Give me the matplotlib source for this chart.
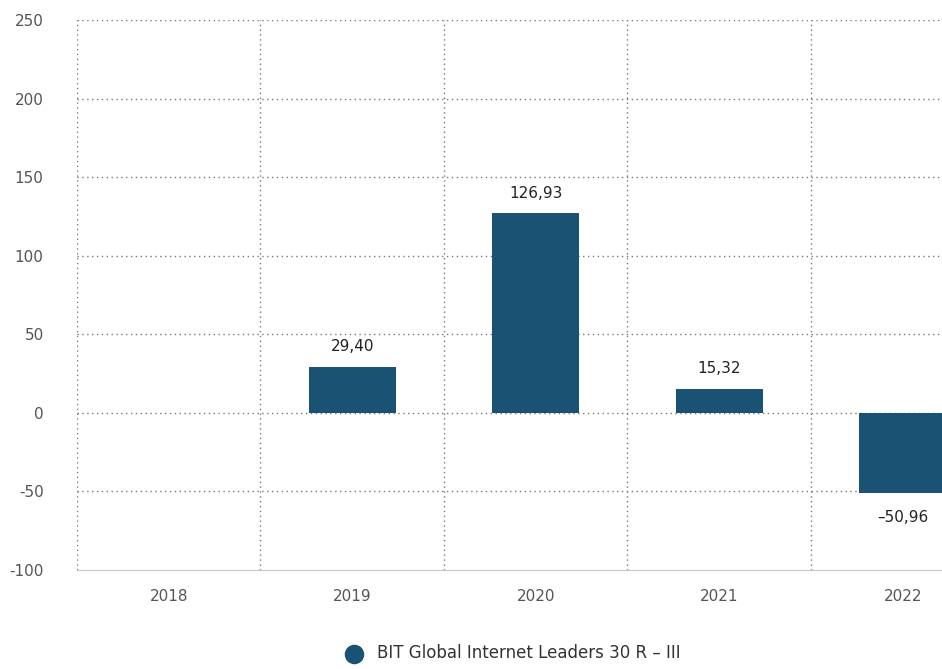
import matplotlib.pyplot as plt

plt.rcParams['axes.unicode_minus'] = False

years = ['2018', '2019', '2020', '2021', '2022']
values = [None, 29.40, 126.93, 15.32, -50.96]
series_name = 'BIT Global Internet Leaders 30 R \u2013 III'
bar_color = '#1a5273'

fig = plt.figure(figsize=(9.42, 6.69), dpi=100)
# axes run off the right edge like in the reference screenshot
ax = fig.add_axes([0.0817, 0.148, 0.974, 0.822])

xs = [i for i, v in enumerate(values) if v is not None]
ys = [v for v in values if v is not None]
ax.bar(xs, ys, width=0.475, color=bar_color, zorder=3)

for x, v in zip(xs, ys):
    label = f'{v:.2f}'.replace('.', ',').replace('-', '\u2013')
    if v >= 0:
        ax.annotate(label, (x, v), xytext=(0, 9), textcoords='offset points',
                    ha='center', va='bottom', fontsize=11, color='#222222')
    else:
        ax.annotate(label, (x, v), xytext=(0, -12), textcoords='offset points',
                    ha='center', va='top', fontsize=11, color='#222222')

ax.set_xlim(-0.5, 4.5)
ax.set_ylim(-100, 250)
ax.set_yticks(range(-100, 251, 50))
ax.set_xticks(range(len(years)))
ax.set_xticklabels(years)

# dotted grid: horizontal at ticks, vertical at category borders
for y in range(-50, 251, 50):
    ax.axhline(y, color='#777777', linestyle=(0, (1, 2.5)), linewidth=1, zorder=1)
for b in [-0.5, 0.5, 1.5, 2.5, 3.5]:
    ax.axvline(b, color='#777777', linestyle=(0, (1, 2.5)), linewidth=1, zorder=1)

for s in ['top', 'right', 'left']:
    ax.spines[s].set_visible(False)
ax.spines['bottom'].set_color('#c8c8c8')
ax.tick_params(axis='both', length=0, labelsize=11, colors='#555555')
ax.tick_params(axis='x', pad=14)
ax.tick_params(axis='y', pad=24)

ax.scatter([], [], s=170, color=bar_color, label=series_name)
fig.legend(loc='lower center', bbox_to_anchor=(0.54, -0.012), frameon=False,
           fontsize=12, handletextpad=0.4, labelcolor='#333333')

plt.savefig('out.png', dpi=100)
